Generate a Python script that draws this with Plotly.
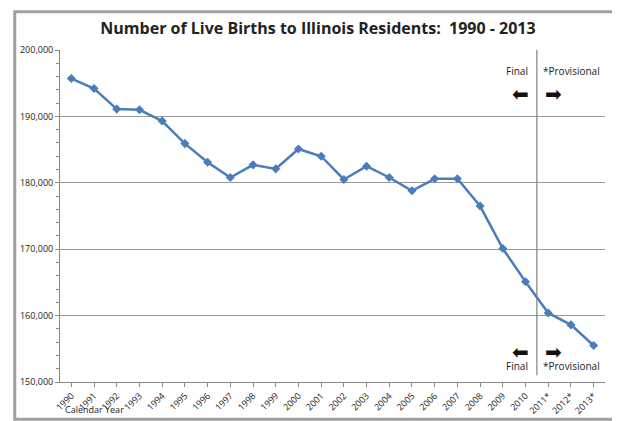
import plotly.graph_objects as go

years = ['1990', '1991', '1992', '1993', '1994', '1995', '1996', '1997', '1998', '1999',
         '2000', '2001', '2002', '2003', '2004', '2005', '2006', '2007', '2008', '2009',
         '2010', '2011*', '2012*', '2013*']
births = [195700, 194200, 191100, 191000, 189300, 185900, 183100, 180800, 182700, 182100,
          185100, 184000, 180500, 182500, 180800, 178800, 180600, 180600, 176500, 170100,
          165100, 160400, 158600, 155500]

idx = list(range(len(years)))
fnt = 'Open Sans, Liberation Sans, sans-serif'

fig = go.Figure()
fig.add_trace(go.Scatter(x=idx, y=births, mode='lines+markers',
                         line=dict(color='#4a7ebb', width=2.5),
                         marker=dict(symbol='diamond', size=7, color='#4a7ebb')))

split = 20.5
fig.add_shape(type='line', x0=split, x1=split, y0=151000, y1=201000,
              line=dict(color='#808080', width=1.2))

for ylab, yarr in [(196800, 193300), (152400, 154500)]:
    fig.add_annotation(x=split - 0.3, y=ylab, text='Final', showarrow=False,
                       xanchor='right', font=dict(size=10, color='#222'))
    fig.add_annotation(x=split + 0.2, y=ylab, text='*Provisional', showarrow=False,
                       xanchor='left', font=dict(size=10, color='#222'))
    fig.add_annotation(x=split - 0.25, y=yarr, text='\u2b05', showarrow=False, xanchor='right',
                       font=dict(family='DejaVu Sans', size=20, color='#111'))
    fig.add_annotation(x=split + 0.25, y=yarr, text='\u27a1', showarrow=False, xanchor='left',
                       font=dict(family='DejaVu Sans', size=20, color='#111'))

fig.add_annotation(x=0.005, y=0, xref='paper', yref='paper', yshift=-27, text='Calendar Year',
                   showarrow=False, xanchor='left', yanchor='middle', font=dict(size=9, color='#222'))

fig.add_shape(type='rect', xref='paper', yref='paper', x0=-0.083, x1=1.036, y0=-0.112, y1=1.115,
              line=dict(color='#a0a0a0', width=3))

fig.update_layout(
    width=620, height=421, showlegend=False,
    plot_bgcolor='white', paper_bgcolor='white',
    margin=dict(l=48, r=23, t=42, b=41),
    font=dict(family=fnt, size=9, color='#222'),
    title=dict(text='<b>Number of Live Births to Illinois Residents:  1990 - 2013</b>',
               x=0.5, y=0.965, xanchor='center', font=dict(size=16, color='#222')),
)
fig.update_xaxes(range=[-0.5, 23.5], tickmode='array', tickvals=idx, ticktext=years,
                 tickangle=-45, showgrid=False, showline=True, linecolor='#888',
                 ticks='outside', ticklen=4, tickcolor='#888', zeroline=False)
fig.update_yaxes(range=[150000, 200000], dtick=10000, tickformat=',', gridcolor='#999',
                 showline=True, linecolor='#888', ticks='outside', ticklen=4, tickcolor='#888',
                 minor=dict(dtick=2000, ticks='outside', ticklen=3, tickcolor='#888', showgrid=False),
                 zeroline=False)

fig.write_html('out.html')
